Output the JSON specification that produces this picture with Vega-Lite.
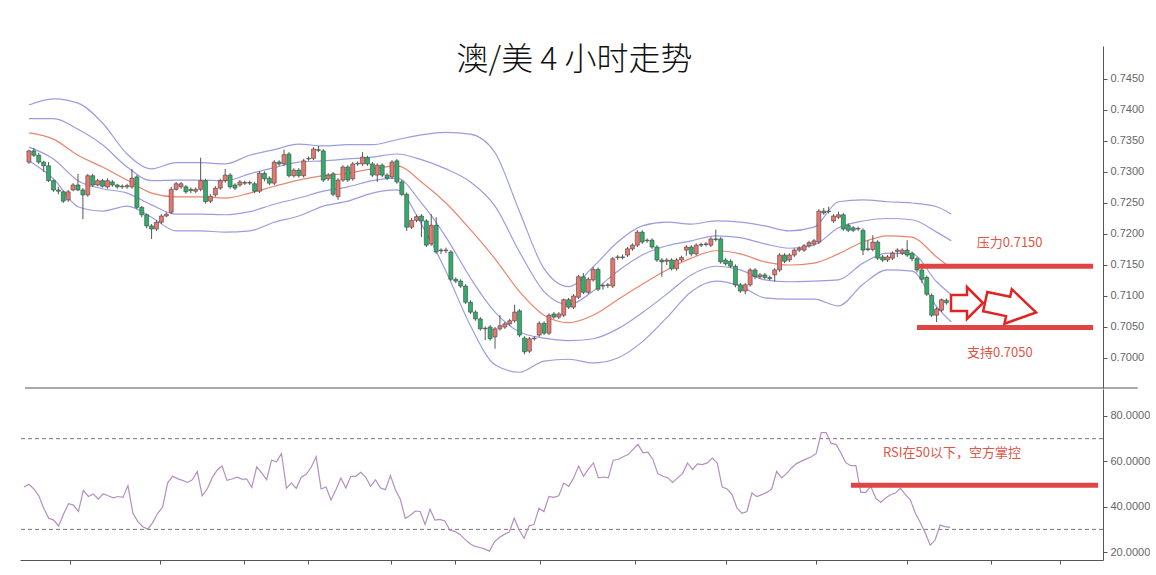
{
"$schema": "https://vega.github.io/schema/vega-lite/v6.json",
"background": "white",
"padding": {"left": 19, "top": 44, "right": 0, "bottom": 0},
"spacing": 0,
"config": {"view": {"stroke": null}, "axis": {"grid": false, "domainColor": "#555", "tickColor": "#555", "labelColor": "#666", "labelFont": "Liberation Sans", "labelFontSize": 11, "tickSize": 4, "labelPadding": 3, "labelOverlap": false}},
"datasets": {
"candles": [
{"i":0,"o":0.7316,"h":0.7336,"l":0.7313,"c":0.7334,"r":48.7},
{"i":1,"o":0.7334,"h":0.7339,"l":0.7324,"c":0.7327,"r":49.9},
{"i":2,"o":0.7327,"h":0.7331,"l":0.7313,"c":0.7316,"r":47.8},
{"i":3,"o":0.7316,"h":0.7318,"l":0.7300,"c":0.7310,"r":44.8},
{"i":4,"o":0.7310,"h":0.7316,"l":0.7284,"c":0.7286,"r":39.3},
{"i":5,"o":0.7286,"h":0.7288,"l":0.7268,"c":0.7271,"r":34.9},
{"i":6,"o":0.7271,"h":0.7276,"l":0.7264,"c":0.7269,"r":34.1},
{"i":7,"o":0.7268,"h":0.7270,"l":0.7250,"c":0.7253,"r":31.5},
{"i":8,"o":0.7255,"h":0.7271,"l":0.7252,"c":0.7268,"r":36.8},
{"i":9,"o":0.7271,"h":0.7282,"l":0.7269,"c":0.7279,"r":41.3},
{"i":10,"o":0.7279,"h":0.7297,"l":0.7269,"c":0.7271,"r":40.7},
{"i":11,"o":0.7271,"h":0.7274,"l":0.7224,"c":0.7263,"r":37.9},
{"i":12,"o":0.7263,"h":0.7297,"l":0.7260,"c":0.7294,"r":47.2},
{"i":13,"o":0.7294,"h":0.7297,"l":0.7276,"c":0.7279,"r":44.5},
{"i":14,"o":0.7279,"h":0.7289,"l":0.7277,"c":0.7286,"r":45.6},
{"i":15,"o":0.7286,"h":0.7289,"l":0.7275,"c":0.7277,"r":43.3},
{"i":16,"o":0.7276,"h":0.7290,"l":0.7273,"c":0.7286,"r":45.7},
{"i":17,"o":0.7284,"h":0.7287,"l":0.7276,"c":0.7279,"r":44.8},
{"i":18,"o":0.7279,"h":0.7281,"l":0.7273,"c":0.7276,"r":43.9},
{"i":19,"o":0.7277,"h":0.7280,"l":0.7273,"c":0.7276,"r":44.5},
{"i":20,"o":0.7276,"h":0.7281,"l":0.7273,"c":0.7278,"r":44.1},
{"i":21,"o":0.7276,"h":0.7305,"l":0.7273,"c":0.7290,"r":49.3},
{"i":22,"o":0.7292,"h":0.7295,"l":0.7240,"c":0.7243,"r":37.1},
{"i":23,"o":0.7243,"h":0.7245,"l":0.7227,"c":0.7231,"r":33.4},
{"i":24,"o":0.7231,"h":0.7233,"l":0.7209,"c":0.7213,"r":31.2},
{"i":25,"o":0.7213,"h":0.7216,"l":0.7192,"c":0.7208,"r":30.1},
{"i":26,"o":0.7208,"h":0.7222,"l":0.7205,"c":0.7219,"r":33.0},
{"i":27,"o":0.7219,"h":0.7232,"l":0.7216,"c":0.7229,"r":37.1},
{"i":28,"o":0.7229,"h":0.7235,"l":0.7227,"c":0.7232,"r":39.8},
{"i":29,"o":0.7235,"h":0.7276,"l":0.7232,"c":0.7272,"r":50.4},
{"i":30,"o":0.7272,"h":0.7284,"l":0.7270,"c":0.7281,"r":53.4},
{"i":31,"o":0.7276,"h":0.7284,"l":0.7273,"c":0.7281,"r":52.4},
{"i":32,"o":0.7276,"h":0.7279,"l":0.7265,"c":0.7268,"r":51.6},
{"i":33,"o":0.7272,"h":0.7275,"l":0.7266,"c":0.7270,"r":50.7},
{"i":34,"o":0.7269,"h":0.7275,"l":0.7266,"c":0.7272,"r":51.9},
{"i":35,"o":0.7272,"h":0.7323,"l":0.7269,"c":0.7286,"r":55.5},
{"i":36,"o":0.7286,"h":0.7289,"l":0.7249,"c":0.7252,"r":44.8},
{"i":37,"o":0.7253,"h":0.7264,"l":0.7250,"c":0.7261,"r":47.8},
{"i":38,"o":0.7263,"h":0.7277,"l":0.7260,"c":0.7274,"r":52.7},
{"i":39,"o":0.7274,"h":0.7289,"l":0.7271,"c":0.7286,"r":56.1},
{"i":40,"o":0.7286,"h":0.7305,"l":0.7283,"c":0.7295,"r":57.9},
{"i":41,"o":0.7295,"h":0.7298,"l":0.7273,"c":0.7276,"r":51.6},
{"i":42,"o":0.7279,"h":0.7282,"l":0.7271,"c":0.7274,"r":52.2},
{"i":43,"o":0.7279,"h":0.7287,"l":0.7276,"c":0.7284,"r":53.0},
{"i":44,"o":0.7283,"h":0.7286,"l":0.7279,"c":0.7282,"r":52.2},
{"i":45,"o":0.7282,"h":0.7286,"l":0.7279,"c":0.7283,"r":52.2},
{"i":46,"o":0.7281,"h":0.7284,"l":0.7266,"c":0.7269,"r":48.5},
{"i":47,"o":0.7269,"h":0.7301,"l":0.7266,"c":0.7298,"r":57.6},
{"i":48,"o":0.7298,"h":0.7301,"l":0.7285,"c":0.7289,"r":54.9},
{"i":49,"o":0.7290,"h":0.7293,"l":0.7279,"c":0.7282,"r":51.9},
{"i":50,"o":0.7282,"h":0.7319,"l":0.7279,"c":0.7316,"r":60.5},
{"i":51,"o":0.7316,"h":0.7319,"l":0.7310,"c":0.7313,"r":59.8},
{"i":52,"o":0.7313,"h":0.7336,"l":0.7310,"c":0.7328,"r":63.5},
{"i":53,"o":0.7329,"h":0.7332,"l":0.7291,"c":0.7294,"r":48.2},
{"i":54,"o":0.7294,"h":0.7306,"l":0.7291,"c":0.7303,"r":50.4},
{"i":55,"o":0.7303,"h":0.7306,"l":0.7291,"c":0.7294,"r":48.1},
{"i":56,"o":0.7294,"h":0.7321,"l":0.7291,"c":0.7318,"r":53.0},
{"i":57,"o":0.7321,"h":0.7325,"l":0.7318,"c":0.7322,"r":54.3},
{"i":58,"o":0.7322,"h":0.7340,"l":0.7319,"c":0.7337,"r":57.4},
{"i":59,"o":0.7336,"h":0.7342,"l":0.7332,"c":0.7335,"r":62.0},
{"i":60,"o":0.7334,"h":0.7337,"l":0.7284,"c":0.7287,"r":47.8},
{"i":61,"o":0.7289,"h":0.7298,"l":0.7286,"c":0.7295,"r":48.7},
{"i":62,"o":0.7297,"h":0.7300,"l":0.7261,"c":0.7264,"r":43.0},
{"i":63,"o":0.7260,"h":0.7290,"l":0.7255,"c":0.7287,"r":47.5},
{"i":64,"o":0.7287,"h":0.7311,"l":0.7284,"c":0.7308,"r":52.7},
{"i":65,"o":0.7308,"h":0.7311,"l":0.7284,"c":0.7287,"r":48.2},
{"i":66,"o":0.7289,"h":0.7316,"l":0.7286,"c":0.7313,"r":53.4},
{"i":67,"o":0.7313,"h":0.7317,"l":0.7310,"c":0.7314,"r":53.4},
{"i":68,"o":0.7313,"h":0.7332,"l":0.7310,"c":0.7324,"r":55.2},
{"i":69,"o":0.7323,"h":0.7326,"l":0.7310,"c":0.7313,"r":53.1},
{"i":70,"o":0.7313,"h":0.7316,"l":0.7292,"c":0.7295,"r":49.0},
{"i":71,"o":0.7295,"h":0.7314,"l":0.7284,"c":0.7311,"r":51.9},
{"i":72,"o":0.7311,"h":0.7314,"l":0.7292,"c":0.7295,"r":48.2},
{"i":73,"o":0.7295,"h":0.7298,"l":0.7287,"c":0.7290,"r":47.5},
{"i":74,"o":0.7292,"h":0.7319,"l":0.7289,"c":0.7316,"r":53.7},
{"i":75,"o":0.7318,"h":0.7321,"l":0.7281,"c":0.7284,"r":47.5},
{"i":76,"o":0.7284,"h":0.7287,"l":0.7261,"c":0.7264,"r":43.3},
{"i":77,"o":0.7264,"h":0.7267,"l":0.7205,"c":0.7211,"r":34.9},
{"i":78,"o":0.7211,"h":0.7226,"l":0.7208,"c":0.7222,"r":36.1},
{"i":79,"o":0.7222,"h":0.7231,"l":0.7219,"c":0.7228,"r":38.1},
{"i":80,"o":0.7229,"h":0.7232,"l":0.7195,"c":0.7221,"r":37.9},
{"i":81,"o":0.7221,"h":0.7224,"l":0.7179,"c":0.7182,"r":32.2},
{"i":82,"o":0.7184,"h":0.7232,"l":0.7181,"c":0.7214,"r":38.9},
{"i":83,"o":0.7214,"h":0.7227,"l":0.7168,"c":0.7171,"r":34.1},
{"i":84,"o":0.7174,"h":0.7177,"l":0.7168,"c":0.7173,"r":34.4},
{"i":85,"o":0.7173,"h":0.7178,"l":0.7169,"c":0.7174,"r":33.7},
{"i":86,"o":0.7171,"h":0.7174,"l":0.7124,"c":0.7127,"r":29.7},
{"i":87,"o":0.7127,"h":0.7130,"l":0.7121,"c":0.7124,"r":29.1},
{"i":88,"o":0.7124,"h":0.7127,"l":0.7113,"c":0.7116,"r":27.9},
{"i":89,"o":0.7116,"h":0.7119,"l":0.7087,"c":0.7090,"r":25.7},
{"i":90,"o":0.7090,"h":0.7093,"l":0.7071,"c":0.7074,"r":23.8},
{"i":91,"o":0.7074,"h":0.7077,"l":0.7060,"c":0.7063,"r":22.6},
{"i":92,"o":0.7063,"h":0.7066,"l":0.7044,"c":0.7047,"r":22.0},
{"i":93,"o":0.7048,"h":0.7051,"l":0.7029,"c":0.7047,"r":21.4},
{"i":94,"o":0.7050,"h":0.7053,"l":0.7028,"c":0.7031,"r":20.4},
{"i":95,"o":0.7034,"h":0.7050,"l":0.7015,"c":0.7047,"r":24.5},
{"i":96,"o":0.7047,"h":0.7069,"l":0.7044,"c":0.7052,"r":26.4},
{"i":97,"o":0.7050,"h":0.7058,"l":0.7047,"c":0.7055,"r":27.8},
{"i":98,"o":0.7055,"h":0.7063,"l":0.7052,"c":0.7060,"r":28.8},
{"i":99,"o":0.7060,"h":0.7086,"l":0.7057,"c":0.7074,"r":34.9},
{"i":100,"o":0.7076,"h":0.7079,"l":0.7034,"c":0.7037,"r":29.7},
{"i":101,"o":0.7032,"h":0.7035,"l":0.7006,"c":0.7010,"r":26.1},
{"i":102,"o":0.7011,"h":0.7034,"l":0.7008,"c":0.7031,"r":31.5},
{"i":103,"o":0.7031,"h":0.7035,"l":0.7028,"c":0.7032,"r":32.2},
{"i":104,"o":0.7037,"h":0.7059,"l":0.7034,"c":0.7056,"r":39.3},
{"i":105,"o":0.7056,"h":0.7059,"l":0.7037,"c":0.7040,"r":37.9},
{"i":106,"o":0.7040,"h":0.7072,"l":0.7037,"c":0.7069,"r":44.5},
{"i":107,"o":0.7071,"h":0.7074,"l":0.7063,"c":0.7066,"r":44.1},
{"i":108,"o":0.7066,"h":0.7074,"l":0.7063,"c":0.7071,"r":44.8},
{"i":109,"o":0.7069,"h":0.7096,"l":0.7066,"c":0.7094,"r":50.4},
{"i":110,"o":0.7094,"h":0.7097,"l":0.7079,"c":0.7082,"r":49.0},
{"i":111,"o":0.7082,"h":0.7103,"l":0.7079,"c":0.7100,"r":52.7},
{"i":112,"o":0.7098,"h":0.7134,"l":0.7095,"c":0.7131,"r":57.9},
{"i":113,"o":0.7131,"h":0.7137,"l":0.7103,"c":0.7106,"r":53.4},
{"i":114,"o":0.7106,"h":0.7130,"l":0.7103,"c":0.7127,"r":56.7},
{"i":115,"o":0.7126,"h":0.7147,"l":0.7123,"c":0.7143,"r":59.3},
{"i":116,"o":0.7143,"h":0.7146,"l":0.7108,"c":0.7111,"r":52.7},
{"i":117,"o":0.7116,"h":0.7120,"l":0.7110,"c":0.7117,"r":53.1},
{"i":118,"o":0.7117,"h":0.7121,"l":0.7113,"c":0.7118,"r":52.7},
{"i":119,"o":0.7116,"h":0.7163,"l":0.7113,"c":0.7160,"r":60.5},
{"i":120,"o":0.7162,"h":0.7166,"l":0.7158,"c":0.7163,"r":60.8},
{"i":121,"o":0.7163,"h":0.7167,"l":0.7159,"c":0.7162,"r":62.0},
{"i":122,"o":0.7166,"h":0.7179,"l":0.7163,"c":0.7176,"r":63.0},
{"i":123,"o":0.7176,"h":0.7185,"l":0.7173,"c":0.7182,"r":65.3},
{"i":124,"o":0.7182,"h":0.7206,"l":0.7179,"c":0.7203,"r":67.5},
{"i":125,"o":0.7203,"h":0.7206,"l":0.7184,"c":0.7187,"r":63.8},
{"i":126,"o":0.7189,"h":0.7193,"l":0.7186,"c":0.7190,"r":64.1},
{"i":127,"o":0.7190,"h":0.7193,"l":0.7176,"c":0.7179,"r":60.8},
{"i":128,"o":0.7179,"h":0.7182,"l":0.7155,"c":0.7158,"r":54.6},
{"i":129,"o":0.7158,"h":0.7161,"l":0.7131,"c":0.7155,"r":53.4},
{"i":130,"o":0.7156,"h":0.7161,"l":0.7150,"c":0.7158,"r":52.8},
{"i":131,"o":0.7158,"h":0.7161,"l":0.7141,"c":0.7144,"r":50.7},
{"i":132,"o":0.7144,"h":0.7161,"l":0.7141,"c":0.7158,"r":52.7},
{"i":133,"o":0.7158,"h":0.7165,"l":0.7155,"c":0.7162,"r":54.6},
{"i":134,"o":0.7174,"h":0.7182,"l":0.7165,"c":0.7179,"r":59.3},
{"i":135,"o":0.7179,"h":0.7182,"l":0.7164,"c":0.7168,"r":56.4},
{"i":136,"o":0.7168,"h":0.7185,"l":0.7165,"c":0.7182,"r":58.9},
{"i":137,"o":0.7182,"h":0.7186,"l":0.7179,"c":0.7183,"r":58.6},
{"i":138,"o":0.7183,"h":0.7187,"l":0.7180,"c":0.7184,"r":59.3},
{"i":139,"o":0.7182,"h":0.7195,"l":0.7179,"c":0.7192,"r":61.4},
{"i":140,"o":0.7192,"h":0.7207,"l":0.7188,"c":0.7191,"r":59.3},
{"i":141,"o":0.7192,"h":0.7195,"l":0.7152,"c":0.7155,"r":48.7},
{"i":142,"o":0.7158,"h":0.7161,"l":0.7149,"c":0.7152,"r":47.8},
{"i":143,"o":0.7156,"h":0.7159,"l":0.7145,"c":0.7148,"r":45.3},
{"i":144,"o":0.7148,"h":0.7151,"l":0.7114,"c":0.7118,"r":39.3},
{"i":145,"o":0.7118,"h":0.7121,"l":0.7105,"c":0.7108,"r":37.1},
{"i":146,"o":0.7108,"h":0.7121,"l":0.7103,"c":0.7118,"r":37.9},
{"i":147,"o":0.7118,"h":0.7145,"l":0.7115,"c":0.7142,"r":46.0},
{"i":148,"o":0.7142,"h":0.7145,"l":0.7127,"c":0.7131,"r":44.5},
{"i":149,"o":0.7131,"h":0.7137,"l":0.7128,"c":0.7134,"r":45.3},
{"i":150,"o":0.7134,"h":0.7137,"l":0.7127,"c":0.7130,"r":46.3},
{"i":151,"o":0.7130,"h":0.7133,"l":0.7125,"c":0.7128,"r":47.8},
{"i":152,"o":0.7134,"h":0.7145,"l":0.7123,"c":0.7142,"r":55.6},
{"i":153,"o":0.7142,"h":0.7169,"l":0.7139,"c":0.7166,"r":52.7},
{"i":154,"o":0.7166,"h":0.7169,"l":0.7153,"c":0.7156,"r":54.6},
{"i":155,"o":0.7158,"h":0.7169,"l":0.7155,"c":0.7166,"r":57.1},
{"i":156,"o":0.7166,"h":0.7177,"l":0.7163,"c":0.7174,"r":59.0},
{"i":157,"o":0.7174,"h":0.7180,"l":0.7171,"c":0.7177,"r":60.1},
{"i":158,"o":0.7174,"h":0.7184,"l":0.7171,"c":0.7181,"r":61.1},
{"i":159,"o":0.7181,"h":0.7189,"l":0.7178,"c":0.7186,"r":62.0},
{"i":160,"o":0.7184,"h":0.7192,"l":0.7181,"c":0.7189,"r":63.5},
{"i":161,"o":0.7187,"h":0.7240,"l":0.7184,"c":0.7237,"r":72.7},
{"i":162,"o":0.7237,"h":0.7242,"l":0.7231,"c":0.7234,"r":72.7},
{"i":163,"o":0.7236,"h":0.7244,"l":0.7233,"c":0.7237,"r":67.9},
{"i":164,"o":0.7221,"h":0.7232,"l":0.7218,"c":0.7229,"r":67.5},
{"i":165,"o":0.7227,"h":0.7236,"l":0.7224,"c":0.7231,"r":63.5},
{"i":166,"o":0.7231,"h":0.7234,"l":0.7205,"c":0.7208,"r":59.3},
{"i":167,"o":0.7214,"h":0.7217,"l":0.7203,"c":0.7206,"r":58.1},
{"i":168,"o":0.7210,"h":0.7213,"l":0.7203,"c":0.7206,"r":58.1},
{"i":169,"o":0.7208,"h":0.7212,"l":0.7205,"c":0.7209,"r":46.3},
{"i":170,"o":0.7206,"h":0.7209,"l":0.7166,"c":0.7174,"r":46.3},
{"i":171,"o":0.7176,"h":0.7190,"l":0.7172,"c":0.7175,"r":49.0},
{"i":172,"o":0.7175,"h":0.7198,"l":0.7172,"c":0.7187,"r":43.8},
{"i":173,"o":0.7187,"h":0.7190,"l":0.7158,"c":0.7161,"r":41.9},
{"i":174,"o":0.7163,"h":0.7166,"l":0.7155,"c":0.7158,"r":43.8},
{"i":175,"o":0.7158,"h":0.7166,"l":0.7155,"c":0.7163,"r":45.3},
{"i":176,"o":0.7161,"h":0.7172,"l":0.7158,"c":0.7169,"r":46.0},
{"i":177,"o":0.7172,"h":0.7177,"l":0.7163,"c":0.7174,"r":48.2},
{"i":178,"o":0.7169,"h":0.7177,"l":0.7166,"c":0.7174,"r":45.3},
{"i":179,"o":0.7174,"h":0.7190,"l":0.7163,"c":0.7166,"r":43.0},
{"i":180,"o":0.7169,"h":0.7172,"l":0.7156,"c":0.7160,"r":37.1},
{"i":181,"o":0.7160,"h":0.7163,"l":0.7138,"c":0.7142,"r":33.0},
{"i":182,"o":0.7142,"h":0.7145,"l":0.7121,"c":0.7127,"r":28.5},
{"i":183,"o":0.7130,"h":0.7133,"l":0.7100,"c":0.7103,"r":23.0},
{"i":184,"o":0.7101,"h":0.7104,"l":0.7066,"c":0.7069,"r":25.3},
{"i":185,"o":0.7069,"h":0.7082,"l":0.7058,"c":0.7079,"r":31.9},
{"i":186,"o":0.7077,"h":0.7096,"l":0.7074,"c":0.7094,"r":31.2},
{"i":187,"o":0.7093,"h":0.7096,"l":0.7086,"c":0.7089,"r":30.9}
],
"bands": [
{"i":0,"ou":0.7408,"iu":0.7386,"m":0.7363,"il":0.7340,"ol":0.7318},
{"i":5,"ou":0.7418,"iu":0.7386,"m":0.7353,"il":0.7321,"ol":0.7289},
{"i":10,"ou":0.7411,"iu":0.7369,"m":0.7327,"il":0.7286,"ol":0.7244},
{"i":15,"ou":0.7379,"iu":0.7344,"m":0.7308,"il":0.7273,"ol":0.7237},
{"i":20,"ou":0.7329,"iu":0.7308,"m":0.7287,"il":0.7266,"ol":0.7245},
{"i":25,"ou":0.7305,"iu":0.7286,"m":0.7266,"il":0.7247,"ol":0.7227},
{"i":30,"ou":0.7315,"iu":0.7287,"m":0.7260,"il":0.7232,"ol":0.7205},
{"i":35,"ou":0.7315,"iu":0.7287,"m":0.7260,"il":0.7232,"ol":0.7205},
{"i":40,"ou":0.7313,"iu":0.7286,"m":0.7258,"il":0.7231,"ol":0.7203},
{"i":45,"ou":0.7327,"iu":0.7297,"m":0.7266,"il":0.7236,"ol":0.7205},
{"i":50,"ou":0.7336,"iu":0.7307,"m":0.7277,"il":0.7248,"ol":0.7219},
{"i":55,"ou":0.7345,"iu":0.7316,"m":0.7287,"il":0.7258,"ol":0.7229},
{"i":60,"ou":0.7342,"iu":0.7318,"m":0.7294,"il":0.7269,"ol":0.7245},
{"i":65,"ou":0.7344,"iu":0.7321,"m":0.7298,"il":0.7276,"ol":0.7253},
{"i":70,"ou":0.7344,"iu":0.7324,"m":0.7305,"il":0.7286,"ol":0.7266},
{"i":75,"ou":0.7352,"iu":0.7329,"m":0.7310,"il":0.7290,"ol":0.7271},
{"i":80,"ou":0.7360,"iu":0.7320,"m":0.7284,"il":0.7250,"ol":0.7216},
{"i":85,"ou":0.7364,"iu":0.7305,"m":0.7250,"il":0.7195,"ol":0.7140},
{"i":90,"ou":0.7361,"iu":0.7284,"m":0.7207,"il":0.7129,"ol":0.7052},
{"i":95,"ou":0.7331,"iu":0.7245,"m":0.7160,"il":0.7074,"ol":0.6989},
{"i":100,"ou":0.7236,"iu":0.7171,"m":0.7107,"il":0.7042,"ol":0.6977},
{"i":105,"ou":0.7144,"iu":0.7107,"m":0.7069,"il":0.7032,"ol":0.6995},
{"i":110,"ou":0.7115,"iu":0.7086,"m":0.7057,"il":0.7028,"ol":0.6998},
{"i":115,"ou":0.7147,"iu":0.7108,"m":0.7069,"il":0.7031,"ol":0.6992},
{"i":120,"ou":0.7187,"iu":0.7140,"m":0.7094,"il":0.7047,"ol":0.7000},
{"i":125,"ou":0.7213,"iu":0.7166,"m":0.7119,"il":0.7073,"ol":0.7026},
{"i":130,"ou":0.7219,"iu":0.7181,"m":0.7142,"il":0.7103,"ol":0.7065},
{"i":135,"ou":0.7216,"iu":0.7189,"m":0.7161,"il":0.7134,"ol":0.7107},
{"i":140,"ou":0.7221,"iu":0.7197,"m":0.7173,"il":0.7148,"ol":0.7124},
{"i":145,"ou":0.7219,"iu":0.7194,"m":0.7168,"il":0.7142,"ol":0.7116},
{"i":150,"ou":0.7213,"iu":0.7184,"m":0.7155,"il":0.7126,"ol":0.7097},
{"i":155,"ou":0.7205,"iu":0.7177,"m":0.7150,"il":0.7123,"ol":0.7095},
{"i":160,"ou":0.7211,"iu":0.7182,"m":0.7153,"il":0.7124,"ol":0.7095},
{"i":165,"ou":0.7252,"iu":0.7210,"m":0.7168,"il":0.7126,"ol":0.7084},
{"i":170,"ou":0.7255,"iu":0.7221,"m":0.7187,"il":0.7153,"ol":0.7119},
{"i":175,"ou":0.7252,"iu":0.7225,"m":0.7197,"il":0.7169,"ol":0.7142},
{"i":180,"ou":0.7250,"iu":0.7223,"m":0.7195,"il":0.7168,"ol":0.7140},
{"i":185,"ou":0.7244,"iu":0.7203,"m":0.7163,"il":0.7123,"ol":0.7083},
{"i":188,"ou":0.7232,"iu":0.7189,"m":0.7145,"il":0.7102,"ol":0.7058}
]
},
"vconcat": [
{
"width": 1083, "height": 342,
"title": {"text": "澳/美 4 小时走势", "font": "Noto Sans CJK SC", "fontSize": 32, "fontWeight": 300, "color": "#111", "anchor": "middle", "frame": "group", "offset": -31, "dx": 13},
"layer": [
{"data": {"name": "bands"}, "mark": {"type": "line", "color": "#9c9ce0", "strokeWidth": 1.2, "interpolate": "monotone"},
 "encoding": {"x": {"field": "i", "type": "quantitative", "scale": {"domain": [-0.8, 217.9], "zero": false, "nice": false}, "axis": null},
  "y": {"field": "ou", "type": "quantitative", "scale": {"domain": [0.69516, 0.75032], "zero": false, "nice": false}, "axis": {"orient": "right", "values": [0.7, 0.705, 0.71, 0.715, 0.72, 0.725, 0.73, 0.735, 0.74, 0.745], "format": ".4f", "title": null, "labelOverlap": false}}}},
{"data": {"name": "bands"}, "mark": {"type": "line", "color": "#9c9ce0", "strokeWidth": 1.2, "interpolate": "monotone"},
 "encoding": {"x": {"field": "i", "type": "quantitative", "axis": null}, "y": {"field": "iu", "type": "quantitative", "axis": {"orient": "right", "values": [0.7, 0.705, 0.71, 0.715, 0.72, 0.725, 0.73, 0.735, 0.74, 0.745], "format": ".4f", "title": null, "labelOverlap": false}}}},
{"data": {"name": "bands"}, "mark": {"type": "line", "color": "#e8866e", "strokeWidth": 1.2, "interpolate": "monotone"},
 "encoding": {"x": {"field": "i", "type": "quantitative", "axis": null}, "y": {"field": "m", "type": "quantitative", "axis": {"orient": "right", "values": [0.7, 0.705, 0.71, 0.715, 0.72, 0.725, 0.73, 0.735, 0.74, 0.745], "format": ".4f", "title": null, "labelOverlap": false}}}},
{"data": {"name": "bands"}, "mark": {"type": "line", "color": "#9c9ce0", "strokeWidth": 1.2, "interpolate": "monotone"},
 "encoding": {"x": {"field": "i", "type": "quantitative", "axis": null}, "y": {"field": "il", "type": "quantitative", "axis": {"orient": "right", "values": [0.7, 0.705, 0.71, 0.715, 0.72, 0.725, 0.73, 0.735, 0.74, 0.745], "format": ".4f", "title": null, "labelOverlap": false}}}},
{"data": {"name": "bands"}, "mark": {"type": "line", "color": "#9c9ce0", "strokeWidth": 1.2, "interpolate": "monotone"},
 "encoding": {"x": {"field": "i", "type": "quantitative", "axis": null}, "y": {"field": "ol", "type": "quantitative", "axis": {"orient": "right", "values": [0.7, 0.705, 0.71, 0.715, 0.72, 0.725, 0.73, 0.735, 0.74, 0.745], "format": ".4f", "title": null, "labelOverlap": false}}}},
{"data": {"name": "candles"}, "mark": {"type": "rule", "color": "#555", "strokeWidth": 1},
 "encoding": {"x": {"field": "i", "type": "quantitative", "axis": null}, "y": {"field": "l", "type": "quantitative", "axis": {"orient": "right", "values": [0.7, 0.705, 0.71, 0.715, 0.72, 0.725, 0.73, 0.735, 0.74, 0.745], "format": ".4f", "title": null, "labelOverlap": false}}, "y2": {"field": "h"}}},
{"data": {"name": "candles"}, "mark": {"type": "bar", "width": 4, "stroke": "#444", "strokeWidth": 0.6},
 "encoding": {"x": {"field": "i", "type": "quantitative", "axis": null}, "y": {"field": "o", "type": "quantitative", "axis": {"orient": "right", "values": [0.7, 0.705, 0.71, 0.715, 0.72, 0.725, 0.73, 0.735, 0.74, 0.745], "format": ".4f", "title": null, "labelOverlap": false}}, "y2": {"field": "c"},
  "fill": {"condition": {"test": "datum.c >= datum.o", "value": "#e8766c"}, "value": "#2fae6b"}}},
{"data": {"values": [{"a": 181, "b": 216.9, "p": 0.7148}, {"a": 181, "b": 216.9, "p": 0.7049}]}, "mark": {"type": "rule", "color": "#e04545", "strokeWidth": 5},
 "encoding": {"x": {"field": "a", "type": "quantitative", "axis": null}, "x2": {"field": "b"}, "y": {"field": "p", "type": "quantitative", "axis": {"orient": "right", "values": [0.7, 0.705, 0.71, 0.715, 0.72, 0.725, 0.73, 0.735, 0.74, 0.745], "format": ".4f", "title": null, "labelOverlap": false}}}},
{"data": {"values": [{"a": 199.9, "p": 0.71855, "t": "压力0.7150"}, {"a": 197.9, "p": 0.7008, "t": "支持0.7050"}]}, "mark": {"type": "text", "font": "Noto Sans CJK SC", "fontSize": 13, "color": "#e05548"},
 "encoding": {"x": {"field": "a", "type": "quantitative", "axis": null}, "y": {"field": "p", "type": "quantitative", "axis": {"orient": "right", "values": [0.7, 0.705, 0.71, 0.715, 0.72, 0.725, 0.73, 0.735, 0.74, 0.745], "format": ".4f", "title": null, "labelOverlap": false}}, "text": {"field": "t"}}},
{"data": {"values": [{"a": 191.2, "p": 0.70887}]}, "mark": {"type": "point", "shape": "M-1,-0.5L0,-0.5L0,-1L1,0L0,1L0,0.5L-1,0.5Z", "size": 1024, "filled": true, "fill": "white", "stroke": "#e02424", "strokeWidth": 2.5, "opacity": 1},
 "encoding": {"x": {"field": "a", "type": "quantitative", "axis": null}, "y": {"field": "p", "type": "quantitative", "axis": {"orient": "right", "values": [0.7, 0.705, 0.71, 0.715, 0.72, 0.725, 0.73, 0.735, 0.74, 0.745], "format": ".4f", "title": null, "labelOverlap": false}}}},
{"data": {"values": [{"a": 200.1, "p": 0.70822}]}, "mark": {"type": "point", "shape": "M-1,-0.38L-0.1,-0.38L-0.1,-0.68L1,0L-0.1,0.68L-0.1,0.38L-1,0.38Z", "size": 2704, "angle": 12, "filled": true, "fill": "white", "stroke": "#e02424", "strokeWidth": 2.5, "opacity": 1},
 "encoding": {"x": {"field": "a", "type": "quantitative", "axis": null}, "y": {"field": "p", "type": "quantitative", "axis": {"orient": "right", "values": [0.7, 0.705, 0.71, 0.715, 0.72, 0.725, 0.73, 0.735, 0.74, 0.745], "format": ".4f", "title": null, "labelOverlap": false}}}},
{"data": {"values": [{"a": -0.8, "b": 226, "p": 0.69516}]}, "mark": {"type": "rule", "color": "#555", "strokeWidth": 1},
 "encoding": {"x": {"field": "a", "type": "quantitative", "axis": null}, "x2": {"field": "b"}, "y": {"field": "p", "type": "quantitative", "axis": {"orient": "right", "values": [0.7, 0.705, 0.71, 0.715, 0.72, 0.725, 0.73, 0.735, 0.74, 0.745], "format": ".4f", "title": null, "labelOverlap": false}}}}
]
},
{
"width": 1083, "height": 171,
"layer": [
{"data": {"values": [{"v": 70}, {"v": 30}]}, "mark": {"type": "rule", "color": "#777", "strokeWidth": 1, "strokeDash": [4, 3]},
 "encoding": {"y": {"field": "v", "type": "quantitative", "scale": {"domain": [16.5, 91.9], "zero": false, "nice": false}, "axis": {"orient": "right", "values": [20, 40, 60, 80], "format": ".4f", "title": null}}}},
{"data": {"name": "candles"}, "mark": {"type": "line", "color": "#b48fc0", "strokeWidth": 1.2},
 "encoding": {"x": {"field": "i", "type": "quantitative", "scale": {"domain": [-0.8, 217.9], "zero": false, "nice": false}, "axis": {"orient": "bottom", "values": [9.3, 27.5, 44.4, 57.4, 74.1, 87, 104.2, 123.4, 141.8, 159.9, 178.3, 195.3, 209.2], "labels": false, "ticks": true, "domain": true, "title": null}},
  "y": {"field": "r", "type": "quantitative", "axis": {"orient": "right", "values": [20, 40, 60, 80], "format": ".4f", "title": null}}}},
{"data": {"values": [{"a": 167, "b": 216.9, "v": 49.5}]}, "mark": {"type": "rule", "color": "#e04545", "strokeWidth": 5},
 "encoding": {"x": {"field": "a", "type": "quantitative", "axis": {"orient": "bottom", "values": [9.3, 27.5, 44.4, 57.4, 74.1, 87, 104.2, 123.4, 141.8, 159.9, 178.3, 195.3, 209.2], "labels": false, "ticks": true, "domain": true, "title": null}}, "x2": {"field": "b"}, "y": {"field": "v", "type": "quantitative", "axis": {"orient": "right", "values": [20, 40, 60, 80], "format": ".4f", "title": null}}}},
{"data": {"values": [{"a": 187.4, "v": 63.7, "t": "RSI在50以下，空方掌控"}]}, "mark": {"type": "text", "font": "Noto Sans CJK SC", "fontSize": 13, "color": "#e05548"},
 "encoding": {"x": {"field": "a", "type": "quantitative", "axis": {"orient": "bottom", "values": [9.3, 27.5, 44.4, 57.4, 74.1, 87, 104.2, 123.4, 141.8, 159.9, 178.3, 195.3, 209.2], "labels": false, "ticks": true, "domain": true, "title": null}}, "y": {"field": "v", "type": "quantitative", "axis": {"orient": "right", "values": [20, 40, 60, 80], "format": ".4f", "title": null}}, "text": {"field": "t"}}}
]
}
]
}
